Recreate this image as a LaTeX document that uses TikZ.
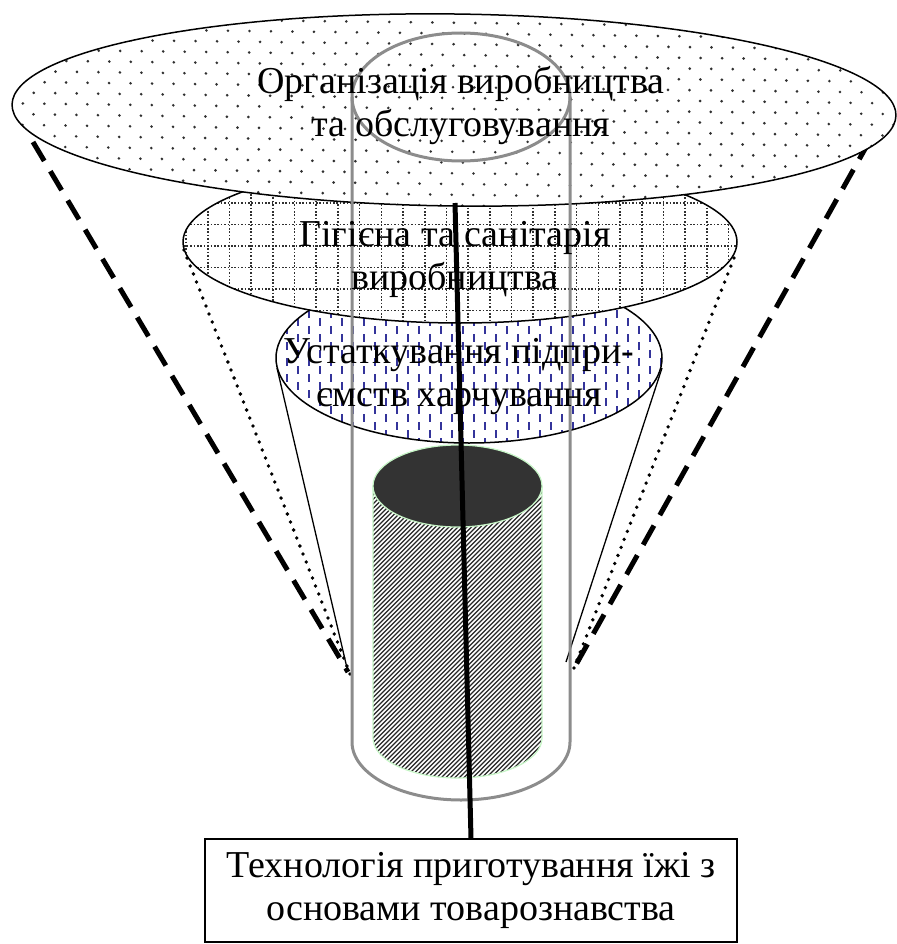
\documentclass[tikz,border=0pt]{standalone}
\usepackage{fontspec}
\setmainfont{Liberation Serif}
\usetikzlibrary{calc}
\definecolor{tubegray}{HTML}{8C8C8C}
\definecolor{dashblue}{HTML}{34349A}
\definecolor{capgray}{HTML}{333333}
\definecolor{rimgreen}{HTML}{C6F5C6}
\definecolor{dotgray}{HTML}{303030}
\tikzset{
  rim/.style={draw=black, line width=1.5pt},
  bigdash/.style={line width=5pt, dash pattern=on 22pt off 12pt},
  thinline/.style={line width=1.3pt},
  gridline/.style={dotgray, line width=1.6pt, dash pattern=on 1.6pt off 1.8pt},
  bluedash/.style={dashblue, line width=2.2pt},
  tube/.style={tubegray, line width=3pt},
  axis/.style={line width=5pt},
  lbl/.style={align=center, inner sep=0pt, font=\fontsize{38}{43}\selectfont},
  basebox/.style={draw, line width=1.3pt, align=center, minimum width=532pt,
    minimum height=103pt, inner sep=0pt, font=\fontsize{38}{43}\selectfont}
}
\begin{document}
\begin{tikzpicture}[x=1pt, y=-1pt]
\useasboundingbox (0,0) rectangle (896,944);

% converging guide lines
\coordinate (dashL0) at (33,142);   \coordinate (dashL1) at (348,672);
\coordinate (dotL0)  at (184,250);  \coordinate (dotL1)  at (350,674);
\coordinate (thinL0) at (277,368);  \coordinate (thinL1) at (347,668);
\coordinate (dashR0) at (870,140);  \coordinate (dashR1) at (573,670);
\coordinate (dotR0)  at (734,258);  \coordinate (dotR1)  at (574,668);
\coordinate (thinR0) at (662,368);  \coordinate (thinR1) at (566,662);
\draw[bigdash] (dashL0) -- (dashL1);
\draw[bigdash] (dashR0) -- (dashR1);
% round-dot lines, one dot at a time
\foreach \k in {0,...,53}
  \fill ($(dotL0)!\k/53!(dotL1)$) circle (1.9);
\foreach \k in {0,...,51}
  \fill ($(dotR0)!\k/51!(dotR1)$) circle (1.9);
\draw[thinline] (thinL0) -- (thinL1);
\draw[thinline] (thinR0) -- (thinR1);

% third layer: equipment
\begin{scope}
  \fill[white] (469,358) ellipse (193 and 85);
  \clip (469,358) ellipse (193 and 85);
  \foreach \i [evaluate=\i as \xx using {276+11*\i},
               evaluate=\i as \yo using {270+8*mod(\i,2)}] in {0,...,36}
    \foreach \j in {0,...,11}
      \draw[bluedash] (\xx,\yo+16*\j) -- ++(0,7.5);
\end{scope}
\draw[rim] (469,358) ellipse (193 and 85);

% second layer: hygiene
\begin{scope}
  \fill[white] (460,242) ellipse (277 and 81);
  \clip (460,242) ellipse (277 and 81);
  \foreach \i in {0,...,26}
    \draw[gridline] (186+21.7*\i,160) -- (186+21.7*\i,325);
  \foreach \j in {0,...,8}
    \draw[gridline] (180,160+21.5*\j) -- (740,160+21.5*\j);
\end{scope}
\draw[rim] (460,242) ellipse (277 and 81);

% top layer: organisation
\begin{scope}[rotate around={-0.7:(454,110)}]
  \fill[white] (454,110) ellipse (442 and 96);
  \begin{scope}
    \clip (454,110) ellipse (442 and 96);
    \foreach \j [evaluate=\j as \yy using {12+10.75*\j},
                 evaluate=\j as \xo using {12+10.75*mod(\j,2)}] in {0,...,18}
      \foreach \i in {0,...,41}
        \fill[dotgray] (\xo+21.5*\i,\yy) circle (1.45);
  \end{scope}
  \draw[rim] (454,110) ellipse (442 and 96);
\end{scope}

% inner cylinder
\begin{scope}
  \clip (373,486) -- (373,738)
    arc[start angle=180, end angle=0, x radius=84.5, y radius=40] -- (542,486) -- cycle;
  \fill[white] (360,440) rectangle (560,790);
  \foreach \a in {-40,-35.5,...,560}
    \draw[line width=1.35pt, black!85] (\a,800) -- (\a+420,380);
\end{scope}
\draw[rimgreen, line width=1.2pt] (373,486) -- (373,738)
  arc[start angle=180, end angle=0, x radius=84.5, y radius=40] -- (542,486);
\filldraw[fill=capgray, draw=rimgreen, line width=1.2pt] (457.5,486) ellipse (84.5 and 41);

% outer transparent tube
\draw[tube] (461,97) ellipse (109 and 64);
\draw[tube] (352,97) -- (352,742)
  arc[start angle=180, end angle=0, x radius=109, y radius=58] -- (570,97);

% labels
\node[lbl] (orgtxt) at (461,106) {Організація виробництва\\та обслуговування};
\node[lbl] (hygtxt) at (455,259) {Гігієна та санітарія\\виробництва};
\node[lbl] (eqtxt)  at (459,377) {Устаткування підпри-\\ємств харчування};
\node[basebox] (base) at (471,890.5) {Технологія приготування їжі з\\основами товарознавства};

% central axis
\coordinate (axistop) at (455,203);
\draw[axis] (axistop) -- (base.north);
\end{tikzpicture}
\end{document}
